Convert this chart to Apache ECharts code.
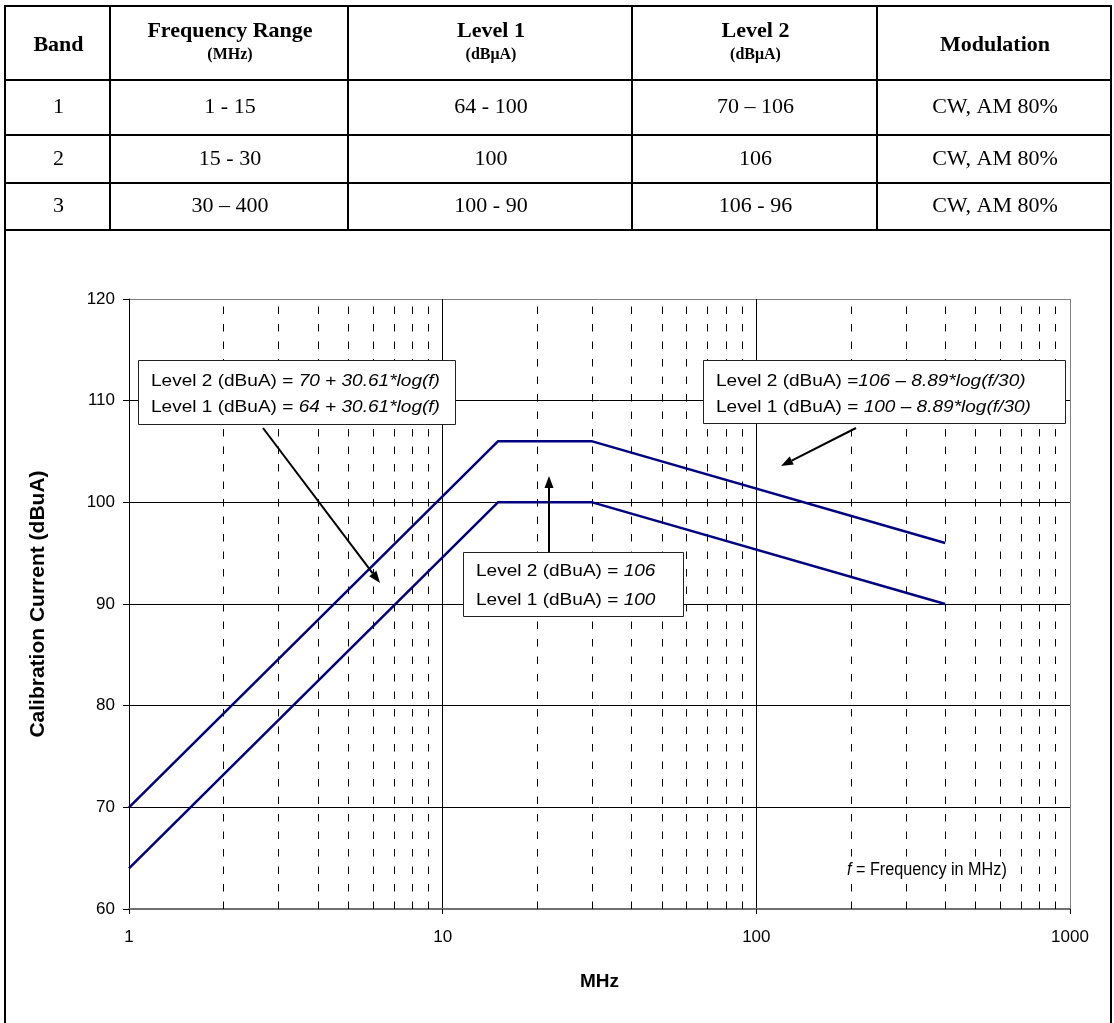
<!DOCTYPE html>
<html><head><meta charset="utf-8">
<script src="https://cdn.jsdelivr.net/npm/echarts@6/dist/echarts.min.js"></script>
<style>html,body{margin:0;padding:0;background:#fff}#c{width:1114px;height:1023px}</style>
</head><body><div id="c"></div>
<script>
// ---- table data ----
const headerLine1 = ['Band', 'Frequency Range', 'Level 1', 'Level 2', 'Modulation'];
const headerLine2 = ['', '(MHz)', '(dBμA)', '(dBμA)', ''];
const bandCol = ['1', '2', '3'];
const freqCol = ['1 - 15', '15 - 30', '30 – 400'];
const level1Col = ['64 - 100', '100', '100 - 90'];
const level2Col = ['70 – 106', '106', '106 - 96'];
const modCol = ['CW, AM 80%', 'CW, AM 80%', 'CW, AM 80%'];

// ---- chart data ----
const freqMHz = [1, 15, 30, 400];
const level2Values = [70, 106, 106, 96];
const level1Values = [64, 100, 100, 90];
const yMin = 60, yMax = 120, yStep = 10;
const xMin = 1, xMax = 1000;
const minorGridMHz = [2,3,4,5,6,7,8,9,20,30,40,50,60,70,80,90,200,300,400,500,600,700,800,900];

const chart = echarts.init(document.getElementById('c'), null, {renderer: 'canvas'});

const SERIF = '"Liberation Serif","Times New Roman",serif';
const SANS = '"Liberation Sans",Arial,sans-serif';

// ---- table graphics ----
const colX = [5, 110, 348, 632, 877, 1111];
const rowY = [6, 80, 135, 183, 230];
const g = [];
function hline(x1, x2, y, w) { g.push({type:'line', shape:{x1, y1:y, x2, y2:y}, style:{stroke:'#000', lineWidth:w||2}, z:10}); }
function vline(x, y1, y2, w) { g.push({type:'line', shape:{x1:x, y1, x2:x, y2}, style:{stroke:'#000', lineWidth:w||2}, z:10}); }
rowY.forEach(y => hline(colX[0]-1, colX[5]+1, y));
colX.forEach((x, i) => vline(x, rowY[0], (i === 0 || i === 5) ? 1023 : rowY[4]));
function txt(x, y, text, font) {
  g.push({type:'text', x, y, z:11, style:{text, fill:'#000', font, align:'center', verticalAlign:'middle'}});
}
for (let c = 0; c < 5; c++) {
  const cx = (colX[c] + colX[c+1]) / 2 + 1;
  if (headerLine2[c]) {
    txt(cx, 31, headerLine1[c], 'bold 22px ' + SERIF);
    txt(cx, 55, headerLine2[c], 'bold 16px ' + SERIF);
  } else {
    txt(cx, 45, headerLine1[c], 'bold 22px ' + SERIF);
  }
}
const cols = [bandCol, freqCol, level1Col, level2Col, modCol];
const rowCenters = [107, 159, 206];
cols.forEach((col, c) => {
  const cx = (colX[c] + colX[c+1]) / 2 + 1;
  col.forEach((v, r) => txt(cx, rowCenters[r], v, '22px ' + SERIF));
});

// ---- annotation boxes ----
function box(x1, y1, x2, y2) {
  g.push({type:'rect', shape:{x:x1, y:y1, width:x2-x1, height:y2-y1}, style:{fill:'#fff', stroke:'#222', lineWidth:1}, z:20});
}
const FS = 17;
const rich = {n:{font:FS + 'px ' + SANS, fill:'#000'}, i:{font:'italic ' + FS + 'px ' + SANS, fill:'#000'}};
function rtxt(x, y, text, sx) {
  g.push({type:'text', x, y, z:21, scaleX:sx || 1.12, style:{text, rich, font:FS + 'px ' + SANS, fill:'#000', align:'left', verticalAlign:'middle'}});
}
box(138.5, 360.5, 455.5, 424.5);
rtxt(151, 381, '{n|Level 2 (dBuA) = }{i|70 + 30.61*log(f)}');
rtxt(151, 407, '{n|Level 1 (dBuA) = }{i|64 + 30.61*log(f)}');
box(703.5, 360.5, 1065.5, 423.5);
rtxt(716, 381, '{n|Level 2 (dBuA) =}{i|106 – 8.89*log(f/30)}');
rtxt(716, 407, '{n|Level 1 (dBuA) = }{i|100 – 8.89*log(f/30)}');
box(463.5, 552.5, 683.5, 616.5);
rtxt(476, 571, '{n|Level 2 (dBuA) = }{i|106}');
rtxt(476, 600, '{n|Level 1 (dBuA) = }{i|100}');
// footnote
g.push({type:'rect', shape:{x:842, y:857, width:170, height:27}, style:{fill:'#fff'}, z:19});
const richF = {n:{font:'18px ' + SANS, fill:'#000'}, i:{font:'italic 18px ' + SANS, fill:'#000'}};
g.push({type:'text', x:847, y:870, z:21, scaleX:0.9, style:{text:'{i|f}{n| = Frequency in MHz)}', rich:richF, font:'18px ' + SANS, fill:'#000', align:'left', verticalAlign:'middle'}});

// ---- arrows ----
function arrow(x1, y1, x2, y2) {
  const L = 12, W = 4.5;
  const dx = x2 - x1, dy = y2 - y1, len = Math.hypot(dx, dy);
  const ux = dx / len, uy = dy / len;
  const bx = x2 - ux * L, by = y2 - uy * L;
  g.push({type:'line', shape:{x1, y1, x2:bx, y2:by}, style:{stroke:'#000', lineWidth:2}, z:22});
  g.push({type:'polygon', shape:{points:[[x2, y2], [bx - uy*W, by + ux*W], [bx + uy*W, by - ux*W]]}, style:{fill:'#000'}, z:22});
}
arrow(263, 428, 380, 583);
arrow(549, 552, 549, 476);
arrow(856, 428, 781, 466);

const lineStyle = {color:'#000080', width:2.5};
const option = {
  backgroundColor:'#fff',
  animation:false,
  textStyle:{fontFamily:SANS},
  grid:{left:129, top:299, width:941, height:610, containLabel:false},
  xAxis:{
    type:'log', logBase:10, min:xMin, max:xMax,
    name:'MHz', nameLocation:'middle', nameGap:63,
    nameTextStyle:{fontFamily:SANS, fontSize:19, fontWeight:'bold', color:'#000'},
    axisLine:{show:true, lineStyle:{color:'#707070', width:2}},
    axisTick:{show:true, inside:false, length:5, lineStyle:{color:'#000', width:1}},
    axisLabel:{fontFamily:SANS, fontSize:17, color:'#000', margin:20, formatter:v => String(v)},
    splitLine:{show:true, lineStyle:{color:['#000', '#000', '#000', '#808080'], width:1}},
    minorTick:{show:false}, minorSplitLine:{show:false}
  },
  yAxis:{
    type:'value', min:yMin, max:yMax, interval:yStep,
    name:'Calibration Current (dBuA)', nameLocation:'middle', nameGap:80, nameRotate:90,
    nameTextStyle:{fontFamily:SANS, fontSize:21, fontWeight:'bold', color:'#000'},
    axisLine:{show:true, lineStyle:{color:'#000', width:1}},
    axisTick:{show:true, inside:false, length:6, lineStyle:{color:'#000', width:1}},
    axisLabel:{fontFamily:SANS, fontSize:17, color:'#000', margin:14},
    splitLine:{show:true, lineStyle:{color:['#707070', '#000', '#000', '#000', '#000', '#000', '#808080'], width:1}}
  },
  series:[
    {
      type:'line', data:[], silent:true, z:1,
      markLine:{
        silent:true, symbol:['none', 'none'], label:{show:false},
        lineStyle:{type:[7.5, 10], color:'#000', width:1},
        emphasis:{disabled:true},
        data:minorGridMHz.map(v => ({xAxis:v}))
      }
    },
    {name:'Level 2', type:'line', symbol:'none', z:5, lineStyle, itemStyle:{color:'#000080'},
     data:freqMHz.map((f, i) => [f, level2Values[i]])},
    {name:'Level 1', type:'line', symbol:'none', z:5, lineStyle, itemStyle:{color:'#000080'},
     data:freqMHz.map((f, i) => [f, level1Values[i]])}
  ],
  graphic:{elements:g}
};
chart.setOption(option);
</script>
</body></html>
